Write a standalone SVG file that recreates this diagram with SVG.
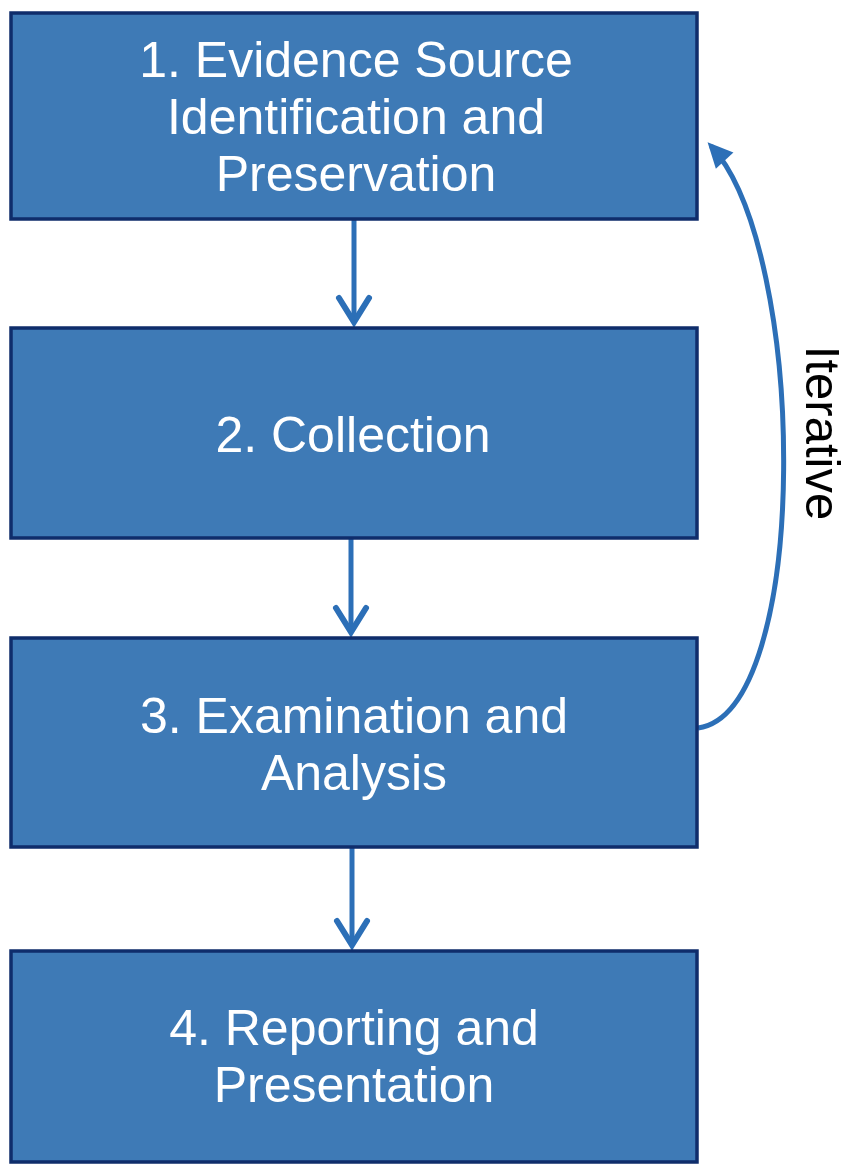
<svg xmlns="http://www.w3.org/2000/svg" width="851" height="1173" viewBox="0 0 851 1173">
<style>
.box{fill:#3e7ab6;stroke:#0f2d6b;stroke-width:3.5}
.lbl{font-family:"Liberation Sans",Arial,sans-serif;font-size:50px;fill:#ffffff;text-anchor:middle}
.conn{fill:none;stroke:#2c6fb7;stroke-width:5}
.side{font-family:"Liberation Sans",Arial,sans-serif;font-size:49px;fill:#000000;text-anchor:middle}
</style>
<defs>
<marker id="chev" markerUnits="userSpaceOnUse" viewBox="-30 -20 36 40" markerWidth="36" markerHeight="40" refX="0" refY="0" orient="auto" overflow="visible">
<path d="M -24 -15 L 0 0 L -24 15" fill="none" stroke="#2c6fb7" stroke-width="6" stroke-linecap="round" stroke-linejoin="miter"/>
</marker>
<marker id="tri" markerUnits="userSpaceOnUse" viewBox="-30 -20 36 40" markerWidth="36" markerHeight="40" refX="0" refY="0" orient="auto" overflow="visible">
<path d="M -20 -12 L 5 0 L -20 12 z" fill="#2c6fb7"/>
</marker>
</defs>
<rect width="851" height="1173" fill="#ffffff"/>
<g id="connectors">
<path class="conn" d="M 354 219 L 354 322" marker-end="url(#chev)"/>
<path class="conn" d="M 351 538 L 351 632" marker-end="url(#chev)"/>
<path class="conn" d="M 352 848 L 352 945" marker-end="url(#chev)"/>
<path class="conn" d="M 698 728 C 812 712, 808 250, 711 146" marker-end="url(#tri)"/>
</g>
<g id="node1">
<rect class="box" x="11" y="13" width="686" height="206"/>
<text class="lbl" x="356" y="77">1. Evidence Source</text>
<text class="lbl" x="356" y="134">Identification and</text>
<text class="lbl" x="356" y="191">Preservation</text>
</g>
<g id="node2">
<rect class="box" x="11" y="328" width="686" height="210"/>
<text class="lbl" x="353" y="452">2. Collection</text>
</g>
<g id="node3">
<rect class="box" x="11" y="638" width="686" height="209"/>
<text class="lbl" x="354" y="733">3. Examination and</text>
<text class="lbl" x="354" y="790">Analysis</text>
</g>
<g id="node4">
<rect class="box" x="11" y="951" width="686" height="211"/>
<text class="lbl" x="354" y="1045">4. Reporting and</text>
<text class="lbl" x="354" y="1102">Presentation</text>
</g>
<g id="label-iterative">
<text class="side" transform="translate(806 433) rotate(90)">Iterative</text>
</g>
</svg>
